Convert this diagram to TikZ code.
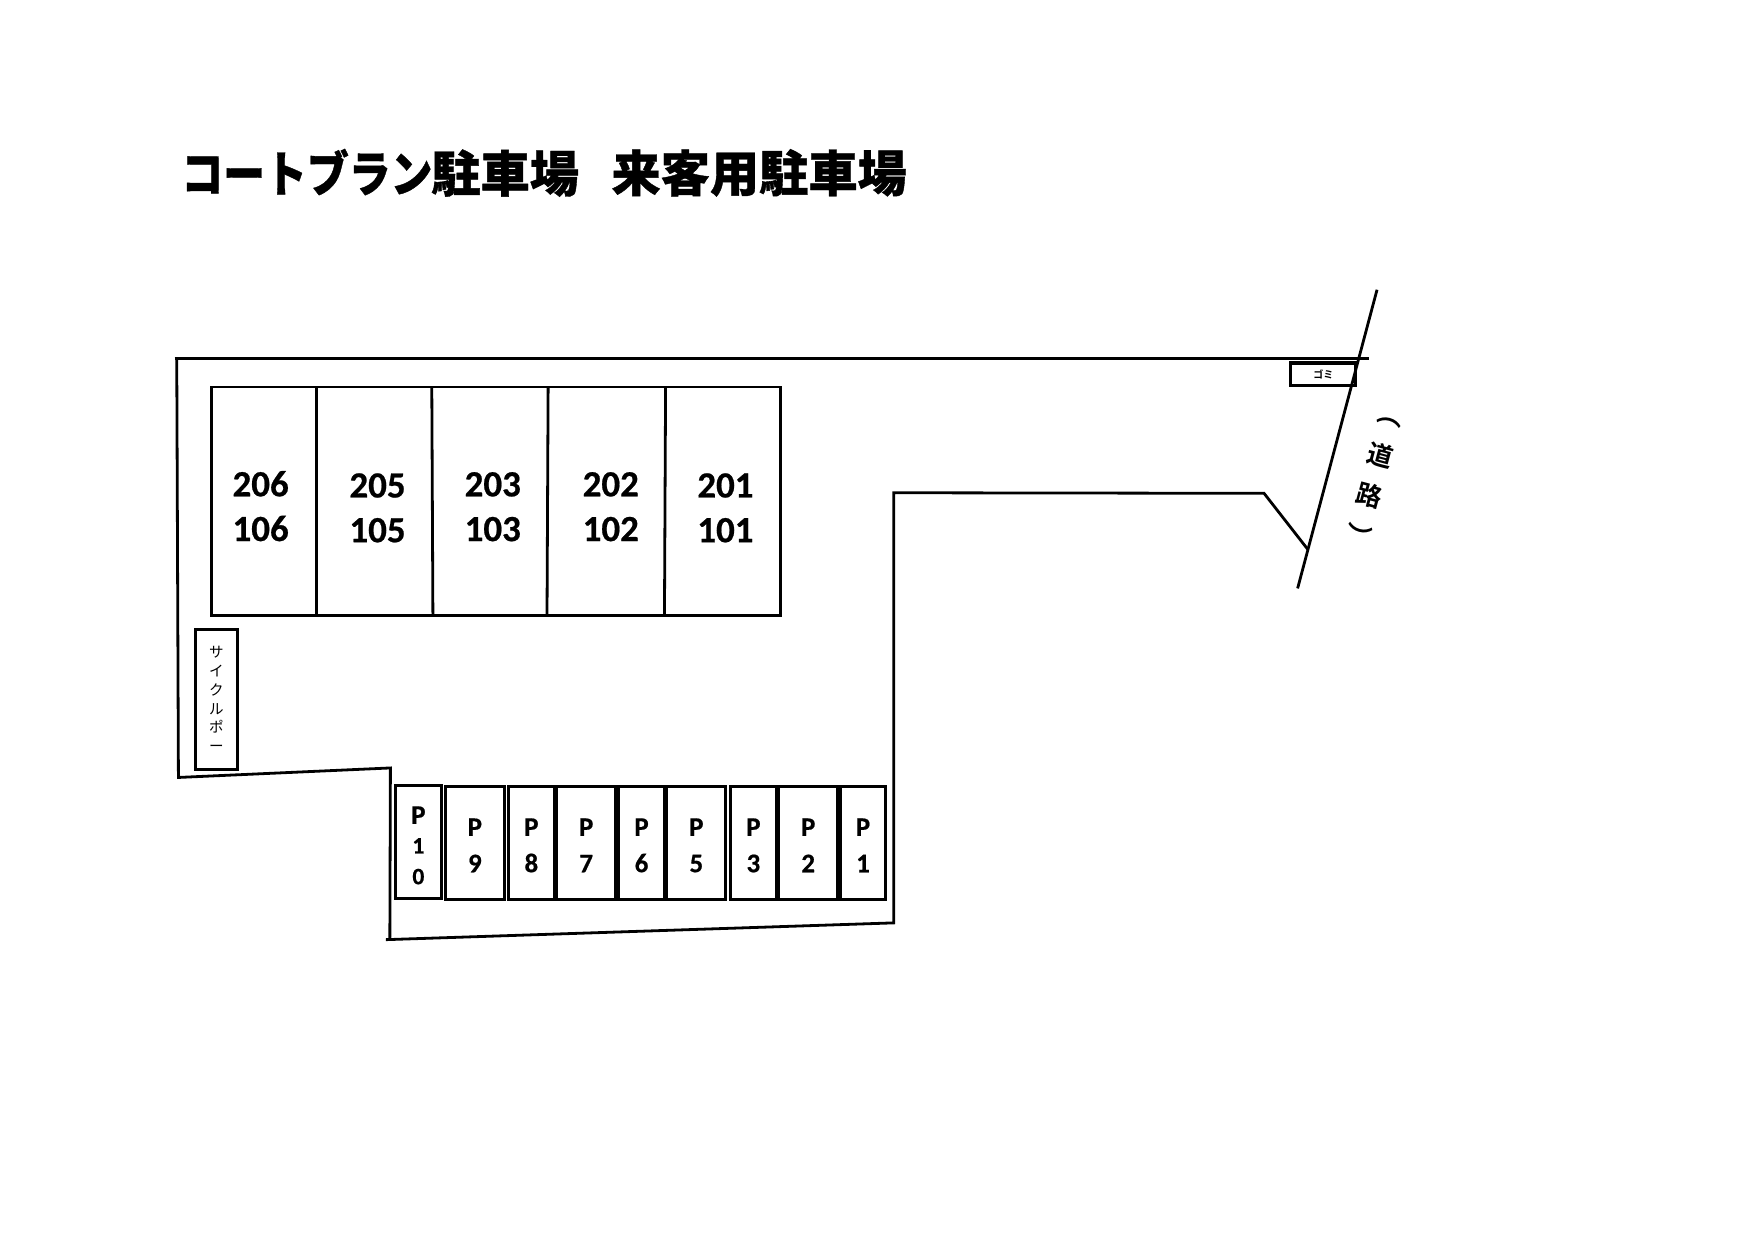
\documentclass[tikz,border=0pt]{standalone}
\usepackage{fontspec}
\setmainfont{Carlito}[BoldFeatures={FakeBold=0.6}]
\newfontfamily\jpbf[FakeBold=0.8]{Noto Sans CJK JP Black}
\newfontfamily\jpb{Noto Sans CJK JP Bold}
\newfontfamily\jpr{Noto Sans CJK JP}
\tikzset{
  wall/.style={line width=2.5pt,line cap=butt,line join=miter},
  unit/.style={font=\fontsize{33}{40}\selectfont\bfseries,align=center,inner sep=0pt},
  pbox/.style={draw,line width=2.5pt,inner sep=0pt,align=center,minimum height=101pt,
     font=\fontsize{24}{32.5}\selectfont\bfseries},
  smallbox/.style={draw,line width=2.7pt,inner sep=0pt,align=center},
}
\newcommand{\plabel}[1]{\rule{0pt}{20pt}P\\#1}
\begin{document}
\begin{tikzpicture}[x=1pt,y=-1pt]
\useasboundingbox (0,0) rectangle (1568,1109);
\fill[white] (0,0) rectangle (1568,1109);
% title
\node[anchor=west,inner sep=0pt,font=\jpbf\fontsize{44}{44}\selectfont] (title1) at (162,154.5)
  {\scalebox{0.85}[1]{コートブラン}\hspace{-1pt}駐車場};
\node[anchor=west,inner sep=0pt,font=\jpbf\fontsize{44}{44}\selectfont] (title2) at (546.5,154.5) {来客用駐車場};
% site boundary
\draw[wall] (156,320.7) -- (1224,320.7);
\draw[wall] (158,320.7) -- (159.5,695) -- (349,686.5) -- (348.5,840);
\draw[wall] (345,840) -- (799,825) -- (799,440.5) -- (1130,441) -- (1169,491);
\draw[wall] (1231,259) -- (1160,526);
% building
\draw[wall] (189,346) rectangle (698,550);
\draw[wall] (283,346) -- (283,550);
\draw[wall] (386,346) -- (387,550);
\draw[wall] (490,346) -- (489,550);
\draw[wall] (595,346) -- (594,550);
\node[unit] (u206) at (233,452.5) {206\\106};
\node[unit] (u205) at (337.5,454) {205\\105};
\node[unit] (u203) at (440.5,453) {203\\103};
\node[unit] (u202) at (546,453) {202\\102};
\node[unit] (u201) at (648.5,454) {201\\101};
% cycle port
\node[smallbox,minimum width=38pt,minimum height=125pt,font=\jpr\fontsize{13}{16.8}\selectfont] (cycle) at (193.5,625)
  {サ\\イ\\ク\\ル\\ポ\\ー};
% rubbish
\node[smallbox,minimum width=58pt,minimum height=20pt,font=\jpb\fontsize{9}{9}\selectfont] (gomi) at (1183,334.5) {ゴミ};
% road label
\node[rotate=-15,inner sep=0pt,align=center,font=\jpb\fontsize{23}{37.5}\selectfont] (road) at (1227.5,431) {︵\\道\\路\\︶};
% parking
\node[pbox,minimum width=41pt] (p10) at (374,752.5) {\rule{0pt}{22pt}P\\[-6pt]{\fontsize{21}{28}\selectfont 1}\\[-5pt]{\fontsize{21}{28}\selectfont 0}};
\node[pbox,minimum width=52.5pt] (p9) at (424.5,753.5) {\plabel{9}};
\node[pbox,minimum width=41pt] (p8) at (475,753.5) {\plabel{8}};
\node[pbox,minimum width=52pt] (p7) at (524,753.5) {\plabel{7}};
\node[pbox,minimum width=40.5pt] (p6) at (573.5,753.5) {\plabel{6}};
\node[pbox,minimum width=52.5pt] (p5) at (622.5,753.5) {\plabel{5}};
\node[pbox,minimum width=40.5pt] (p3) at (673.5,753.5) {\plabel{3}};
\node[pbox,minimum width=52.5pt] (p2) at (722.5,753.5) {\plabel{2}};
\node[pbox,minimum width=40.5pt] (p1) at (771.5,753.5) {\plabel{1}};
\end{tikzpicture}
\end{document}
